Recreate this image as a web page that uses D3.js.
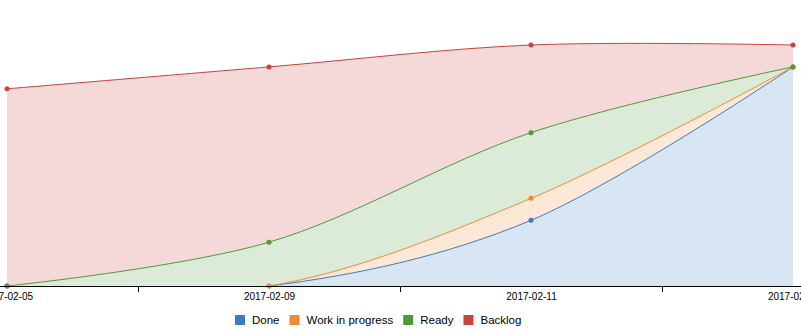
<!DOCTYPE html>
<html>
<head>
<meta charset="utf-8">
<script src="https://cdn.jsdelivr.net/npm/d3@7"></script>
<style>
  body { margin: 0; background: #fff; }
  svg { font-family: "Liberation Sans", Arial, sans-serif; display: block; }
</style>
</head>
<body>
<svg id="chart" width="801" height="331"></svg>
<script>
// cumulative flow, one value per day shown on the axis
var dates = ["2017-02-05", "2017-02-09", "2017-02-11", "2017-02-13"];
var seriesNames = ["Done", "Work in progress", "Ready", "Backlog"];
var done = [0, 0, 3, 10];
var inProgress = [0, 0, 1, 0];
var ready = [0, 2, 3, 0];
var backlog = [9, 8, 4, 1];
var colors = ["#3b7dbc", "#f28b36", "#4d9a37", "#c8433a"];

var svg = d3.select("#chart");

var x = d3.scaleLinear().domain([0, dates.length - 1]).range([7, 793]);
var y = d3.scaleLinear().domain([0, 11]).range([286, 45]);

// build stack table from the arrays
var rows = dates.map(function(d, i) {
  return { i: i, "Done": done[i], "Work in progress": inProgress[i], "Ready": ready[i], "Backlog": backlog[i] };
});
var stacked = d3.stack().keys(seriesNames)(rows);

svg.append("defs").append("clipPath").attr("id", "clip")
  .append("rect").attr("x", 0).attr("y", 0).attr("width", 801).attr("height", 287);

var g = svg.append("g").attr("clip-path", "url(#clip)");

var curve = d3.curveCardinal;

var area = d3.area()
  .curve(curve)
  .x(function(d) { return x(d.data.i); })
  .y0(function(d) { return y(d[0]); })
  .y1(function(d) { return y(d[1]); });

var line = d3.line()
  .curve(curve)
  .x(function(d) { return x(d.data.i); })
  .y(function(d) { return y(d[1]); });

g.selectAll("path.area")
  .data(stacked)
  .enter().append("path")
  .attr("class", "area")
  .attr("d", area)
  .style("fill", function(d, i) { return colors[i]; })
  .style("opacity", 0.2)
  .style("stroke", "none");

g.selectAll("path.line")
  .data(stacked)
  .enter().append("path")
  .attr("class", "line")
  .attr("d", line)
  .style("fill", "none")
  .style("stroke", function(d, i) { return colors[i]; })
  .style("stroke-width", 1);

stacked.forEach(function(s, k) {
  svg.append("g").selectAll("circle")
    .data(s)
    .enter().append("circle")
    .attr("cx", function(d) { return x(d.data.i); })
    .attr("cy", function(d) { return y(d[1]); })
    .attr("r", 2.5)
    .style("fill", colors[k]);
});

// x axis: full-width line, ticks between days, labels on days
svg.append("line")
  .attr("x1", 0).attr("x2", 801)
  .attr("y1", 286.5).attr("y2", 286.5)
  .style("stroke", "#000");

var tickAxis = d3.axisBottom(x)
  .tickValues([0.5, 1.5, 2.5])
  .tickSize(6)
  .tickFormat("");
var ta = svg.append("g").attr("transform", "translate(0,286)").call(tickAxis);
ta.select(".domain").remove();

var labelAxis = d3.axisBottom(x)
  .tickValues(d3.range(dates.length))
  .tickSize(0)
  .tickPadding(7)
  .tickFormat(function(i) { return dates[i]; });
var la = svg.append("g").attr("transform", "translate(0,286)").call(labelAxis);
la.select(".domain").remove();
la.selectAll("text").style("font-size", "10px").style("font-family", "Liberation Sans, Arial, sans-serif").attr("fill", "#000");

// legend
var legend = svg.append("g").attr("transform", "translate(235,320)");
var lx = 0;
seriesNames.forEach(function(name, i) {
  var item = legend.append("g").attr("transform", "translate(" + lx + ",0)");
  item.append("rect")
    .attr("x", 0).attr("y", -5)
    .attr("width", 10).attr("height", 10)
    .style("fill", colors[i]);
  var t = item.append("text")
    .attr("x", 17).attr("y", 0)
    .attr("dy", "0.35em")
    .style("font-size", "11.5px")
    .style("fill", "#000")
    .text(name);
  lx += 17 + t.node().getComputedTextLength() + 10;
});
</script>
</body>
</html>
